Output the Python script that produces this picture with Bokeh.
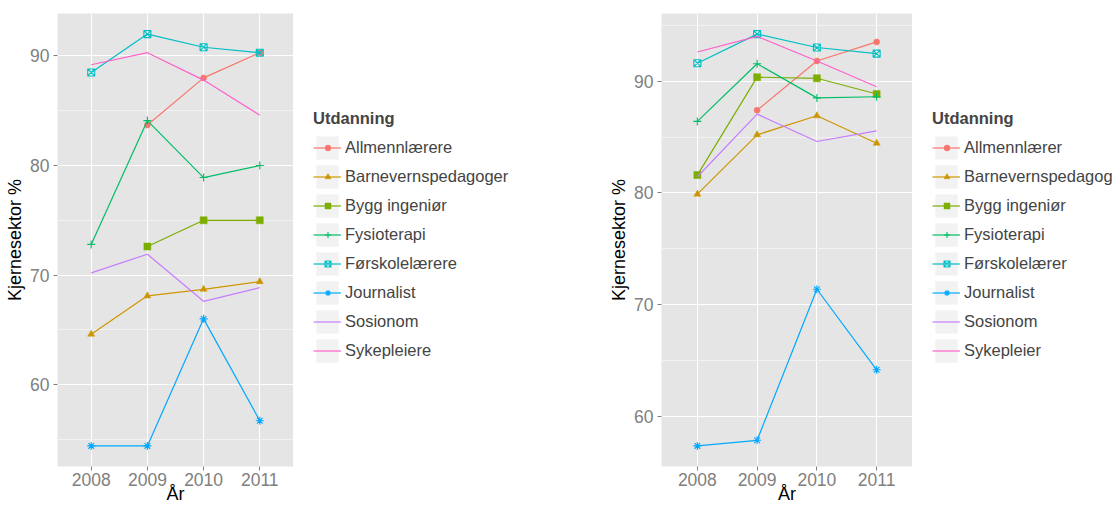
import numpy as np
from bokeh.plotting import figure
from bokeh.layouts import row
from bokeh.models import Legend, LegendItem, FixedTicker, Range1d
from bokeh.embed import file_html
from bokeh.resources import INLINE

nan = float("nan")

years = [2008, 2009, 2010, 2011]
y_ticks = [60, 70, 80, 90]
y_minor_ticks = [55, 65, 75, 85, 95]
legend_title = "Utdanning"
x_title = "År"
y_title = "Kjernesektor %"

# Left panel
left_labels = ["Allmennlærere", "Barnevernspedagoger", "Bygg ingeniør", "Fysioterapi",
               "Førskolelærere", "Journalist", "Sosionom", "Sykepleiere"]
left_allmenn = [nan, 83.7, 88.0, 90.3]
left_barnevern = [64.6, 68.1, 68.7, 69.4]
left_bygg = [nan, 72.6, 75.0, 75.0]
left_fysio = [72.8, 84.1, 78.9, 80.0]
left_forskole = [88.5, 92.0, 90.8, 90.3]
left_journalist = [54.4, 54.4, 66.0, 56.7]
left_sosionom = [70.2, 71.9, 67.6, 68.85]
left_sykepleie = [89.2, 90.3, 87.8, 84.6]

# Right panel
right_labels = ["Allmennlærer", "Barnevernspedagog", "Bygg ingeniør", "Fysioterapi",
                "Førskolelærer", "Journalist", "Sosionom", "Sykepleier"]
right_allmenn = [nan, 87.4, 91.8, 93.5]
right_barnevern = [79.9, 85.2, 86.9, 84.45]
right_bygg = [81.6, 90.35, 90.25, 88.85]
right_fysio = [86.4, 91.55, 88.5, 88.6]
right_forskole = [91.6, 94.2, 93.0, 92.45]
right_journalist = [57.4, 57.9, 71.4, 64.2]
right_sosionom = [81.45, 87.05, 84.6, 85.55]
right_sykepleie = [92.6, 94.0, 91.8, 89.5]

COLORS = ["#F8766D", "#CD9600", "#7CAE00", "#00BE67", "#00BFC4", "#00A9FF", "#C77CFF", "#FF61CC"]
MARKERS = ["circle", "triangle", "square", "cross", "square_x", "asterisk", None, None]
SIZES = [6, 7, 7, 8, 7, 8, 0, 0]
FONT = "Liberation Sans"
H = 506


def add_line(p, xs, ys, c):
    return p.line(xs, ys, line_color=c, line_width=1.2)


def add_marker(p, xs, ys, c, m, s):
    if m is None:
        return None
    if m in ("cross", "asterisk", "square_x"):
        return p.scatter(xs, ys, marker=m, size=s, fill_color=None,
                         line_color=c, line_width=1.1)
    return p.scatter(xs, ys, marker=m, size=s, fill_color=c,
                     line_color=c, line_width=0.5)


def make_panel(series, left_border, frame_w):
    vals = np.array(series, dtype=float)
    lo, hi = np.nanmin(vals), np.nanmax(vals)
    pad = 0.05 * (hi - lo)
    p = figure(width=left_border + frame_w, height=H,
               min_border_left=left_border, min_border_right=0,
               min_border_top=13, min_border_bottom=40,
               x_range=Range1d(years[0] - 0.6, years[-1] + 0.6),
               y_range=Range1d(lo - pad, hi + pad),
               output_backend="svg", toolbar_location=None,
               background_fill_color="#E5E5E5", border_fill_color="white",
               outline_line_color=None)
    p.xaxis.ticker = FixedTicker(ticks=years)
    p.yaxis.ticker = FixedTicker(ticks=y_ticks, minor_ticks=y_minor_ticks)
    p.xgrid.grid_line_color = "white"
    p.ygrid.grid_line_color = "white"
    p.xgrid.grid_line_width = 1
    p.ygrid.grid_line_width = 1
    p.ygrid.minor_grid_line_color = "#F2F2F2"
    p.ygrid.minor_grid_line_width = 1
    for ax in (p.xaxis[0], p.yaxis[0]):
        ax.axis_line_color = None
        ax.major_tick_line_color = "#7F7F7F"
        ax.major_tick_out = 4
        ax.major_tick_in = 0
        ax.minor_tick_out = 0
        ax.minor_tick_in = 0
        ax.major_label_text_color = "#7F7F7F"
        ax.major_label_text_font = FONT
        ax.major_label_text_font_size = "17.5px"
        ax.axis_label_text_font = FONT
        ax.axis_label_text_font_size = "18px"
        ax.axis_label_text_font_style = "normal"
        ax.axis_label_text_color = "black"
    p.yaxis.axis_label = y_title
    p.yaxis.major_label_standoff = 4
    p.yaxis.axis_label_standoff = 2
    p.xaxis.axis_label = x_title
    p.xaxis.major_label_standoff = 2
    p.xaxis.axis_label_standoff = -5

    for vals_i, c, m, s in zip(series, COLORS, MARKERS, SIZES):
        add_line(p, years, vals_i, c)
        add_marker(p, years, vals_i, c, m, s)
    return p


def legend_style(**kw):
    base = dict(title_text_font=FONT, title_text_font_style="bold",
                title_text_font_size="16.5px", title_standoff=5,
                label_text_font=FONT, label_text_font_size="16.5px",
                label_height=29, spacing=0, padding=0, margin=0,
                border_line_color=None, background_fill_alpha=0)
    base.update(kw)
    return base


def make_legend(labels, series, width):
    # The legend lives in its own white panel; the series are added again so the
    # legend has real glyphs, but the panel's ranges keep them out of view.
    q = figure(width=width, height=H, min_border=0, x_axis_type=None, y_axis_type=None,
               x_range=Range1d(0, 1), y_range=Range1d(0, 1),
               output_backend="svg", toolbar_location=None,
               background_fill_color="white", border_fill_color="white",
               outline_line_color=None)
    q.grid.visible = False
    bg = q.quad(left=years, right=years, top=series[-1], bottom=series[-1],
                fill_color="#F2F2F2", line_color=None)
    line_items, marker_items = [], []
    for lab, vals_i, c, m, s in zip(labels, series, COLORS, MARKERS, SIZES):
        rl = add_line(q, years, vals_i, c)
        line_items.append(LegendItem(label=lab, renderers=[bg, rl]))
        rm = add_marker(q, years, vals_i, c, m, s)
        marker_items.append(LegendItem(label="", renderers=[rm] if rm is not None else []))
    # keys (background + line) with labels and title
    q.add_layout(Legend(items=line_items, location=(20, 101),
                        **legend_style(title=legend_title, glyph_width=28,
                                       glyph_height=29, label_standoff=4)))
    # small markers laid over the keys
    q.add_layout(Legend(items=marker_items, location=(26.5, 101),
                        **legend_style(glyph_width=15, glyph_height=15, label_standoff=0)))
    return q


left_series = [left_allmenn, left_barnevern, left_bygg, left_fysio,
               left_forskole, left_journalist, left_sosionom, left_sykepleie]
right_series = [right_allmenn, right_barnevern, right_bygg, right_fysio,
                right_forskole, right_journalist, right_sosionom, right_sykepleie]

p1 = make_panel(left_series, 57, 236)
l1 = make_legend(left_labels, left_series, 307)
p2 = make_panel(right_series, 61, 251)
l2 = make_legend(right_labels, right_series, 204)

layout = row(p1, l1, p2, l2)
open("out.html", "w").write(file_html(layout, INLINE))
